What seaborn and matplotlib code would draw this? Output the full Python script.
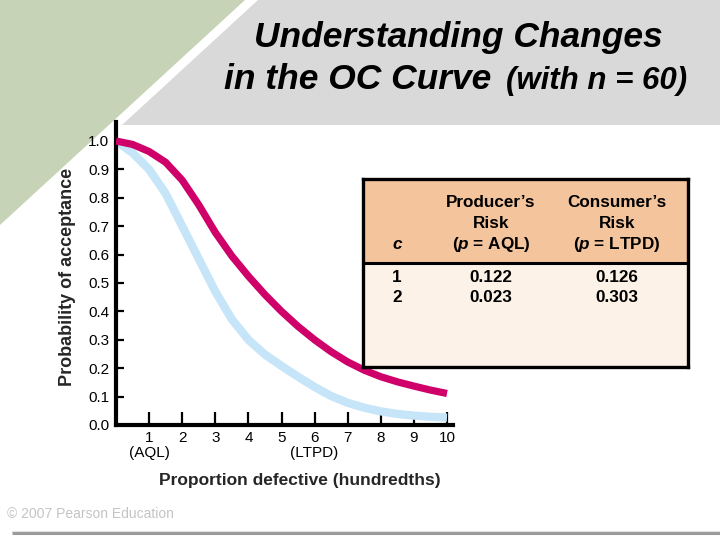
import matplotlib
matplotlib.use("Agg")
import matplotlib.pyplot as plt
from matplotlib.patches import Polygon, Rectangle
import seaborn as sns
import pandas as pd

# ---------------- data ----------------
proportion_defective = [0, 0.5, 1, 1.5, 2, 2.5, 3, 3.5, 4, 4.5, 5,
                        5.5, 6, 6.5, 7, 7.5, 8, 8.5, 9, 9.5, 10]
pa_c1 = [1.0, 0.958, 0.90, 0.815, 0.70, 0.585, 0.47, 0.372, 0.30, 0.248, 0.208,
         0.170, 0.134, 0.102, 0.078, 0.061, 0.048, 0.039, 0.033, 0.029, 0.026]
pa_c2 = [1.0, 0.988, 0.963, 0.925, 0.862, 0.775, 0.678, 0.595, 0.524, 0.459, 0.400,
         0.347, 0.300, 0.258, 0.222, 0.193, 0.170, 0.152, 0.137, 0.123, 0.111]

x_ticks = [1, 2, 3, 4, 5, 6, 7, 8, 9, 10]
x_tick_labels = ["1\n(AQL)", "2", "3", "4", "5", "6\n(LTPD)", "7", "8", "9", "10"]
y_ticks = [0.0, 0.1, 0.2, 0.3, 0.4, 0.5, 0.6, 0.7, 0.8, 0.9, 1.0]
y_tick_labels = ["0.0", "0.1", "0.2", "0.3", "0.4", "0.5", "0.6", "0.7", "0.8", "0.9", "1.0"]

table_c = ["1", "2"]
producer_risk = ["0.122", "0.023"]
consumer_risk = ["0.126", "0.303"]

title_line1 = "Understanding Changes"
title_line2 = "in the OC Curve"
title_line2_small = "(with n = 60)"
x_label = "Proportion defective (hundredths)"
y_label = "Probability of acceptance"
copyright_text = "\u00a9 2007 Pearson Education"

# ---------------- style ----------------
sns.set_style("white")
plt.rcParams["font.family"] = ["Liberation Sans", "DejaVu Sans"]
plt.rcParams["mathtext.fontset"] = "custom"
plt.rcParams["mathtext.it"] = "Liberation Sans:italic:bold"
plt.rcParams["mathtext.rm"] = "Liberation Sans:bold"

MAGENTA = "#CF006A"
LIGHTBLUE = "#C6E5F8"

fig = plt.figure(figsize=(7.2, 5.4), dpi=100)
fig.patch.set_facecolor("white")

# background (pixel coordinates)
bg = fig.add_axes([0, 0, 1, 1], zorder=0)
bg.set_xlim(0, 720)
bg.set_ylim(540, 0)
bg.axis("off")
bg.add_patch(Polygon([(0, 0), (245, 0), (0, 225)], closed=True,
                     facecolor="#C7D3B6", edgecolor="none"))
bg.add_patch(Polygon([(258, 0), (720, 0), (720, 125), (122, 125)], closed=True,
                     facecolor="#D9D9D9", edgecolor="none"))
bg.plot([12, 720], [533, 533], color="#9A9A9A", lw=2.2, solid_capstyle="butt")
bg.plot([12, 720], [531, 531], color="#E2E2E2", lw=0.8)

# title
bg.text(458, 47, title_line1, fontsize=25.5, fontweight="bold", fontstyle="italic",
        ha="center", va="baseline", color="black")
bg.text(224, 89, title_line2, fontsize=25.5, fontweight="bold", fontstyle="italic",
        ha="left", va="baseline", color="black")
bg.text(506, 89, title_line2_small, fontsize=22.5, fontweight="bold", fontstyle="italic",
        ha="left", va="baseline", color="black")

bg.text(7, 514, copyright_text, fontsize=10, color="#C4C4C4", ha="left", va="center")

# ---------------- main axes ----------------
x0, x1 = 116, 453
y0, y1 = 425, 122
ax = fig.add_axes([x0 / 720, 1 - y0 / 540, (x1 - x0) / 720, (y0 - y1) / 540], zorder=2)
ax.set_facecolor("none")

df = pd.DataFrame({"p": proportion_defective, "c1": pa_c1, "c2": pa_c2})
sns.lineplot(data=df, x="p", y="c2", ax=ax, color=MAGENTA, linewidth=5.2,
             solid_capstyle="butt", solid_joinstyle="round", zorder=3)
sns.lineplot(data=df, x="p", y="c1", ax=ax, color=LIGHTBLUE, linewidth=6.0,
             solid_capstyle="butt", solid_joinstyle="round", zorder=2)

ax.set_xlim(0, (x1 - x0) / 33.1)
ax.set_ylim(0, (y0 - y1) / 284.0)
ax.set_xticks(x_ticks)
ax.set_xticklabels(x_tick_labels, fontsize=11, linespacing=1.15)
ax.set_yticks(y_ticks)
ax.set_yticklabels(y_tick_labels, fontsize=11)
ax.tick_params(axis="y", which="major", left=True, direction="in", length=5.5,
               width=1.6, pad=5, colors="black")
ax.tick_params(axis="x", which="major", bottom=True, direction="in", length=9.5,
               width=1.6, pad=4, colors="black")
ax.set_xlabel("")
ax.set_ylabel("")
for s in ["top", "right"]:
    ax.spines[s].set_visible(False)
for s in ["left", "bottom"]:
    ax.spines[s].set_linewidth(3.0)
    ax.spines[s].set_color("black")

bg.text(300, 480, x_label, fontsize=12.5, fontweight="bold", ha="center", va="center")
bg.text(68, 277, y_label, fontsize=13, fontweight="bold", ha="center", va="center",
        rotation=90)

# ---------------- table ----------------
tx0, tx1, ty0, ty1 = 363, 688, 179, 367
tab = fig.add_axes([tx0 / 720, 1 - ty1 / 540, (tx1 - tx0) / 720, (ty1 - ty0) / 540], zorder=4)
tab.set_xlim(tx0, tx1)
tab.set_ylim(ty1, ty0)
tab.set_facecolor("#FDF2E7")
tab.set_xticks([])
tab.set_yticks([])
for s in tab.spines.values():
    s.set_linewidth(2.4)
    s.set_color("black")
tab.add_patch(Rectangle((tx0, ty0), tx1 - tx0, 263 - ty0, facecolor="#F4C49D",
                        edgecolor="none"))
tab.plot([tx0, tx1], [263, 263], color="black", lw=2.2)

tkw = dict(fontsize=12.3, fontweight="bold", ha="center", va="center", color="black")
tab.text(397, 245, "c", fontstyle="italic", **tkw)
tab.text(491, 203, "Producer\u2019s", **tkw)
tab.text(491, 224, "Risk", **tkw)
tab.text(491, 245, "($p$ = AQL)", **tkw)
tab.text(617, 203, "Consumer\u2019s", **tkw)
tab.text(617, 224, "Risk", **tkw)
tab.text(617, 245, "($p$ = LTPD)", **tkw)
for i, (c, pr, cr) in enumerate(zip(table_c, producer_risk, consumer_risk)):
    yy = 278 + 20 * i
    tab.text(397, yy, c, **tkw)
    tab.text(491, yy, pr, **tkw)
    tab.text(617, yy, cr, **tkw)

fig.savefig("out.png", dpi=100)
